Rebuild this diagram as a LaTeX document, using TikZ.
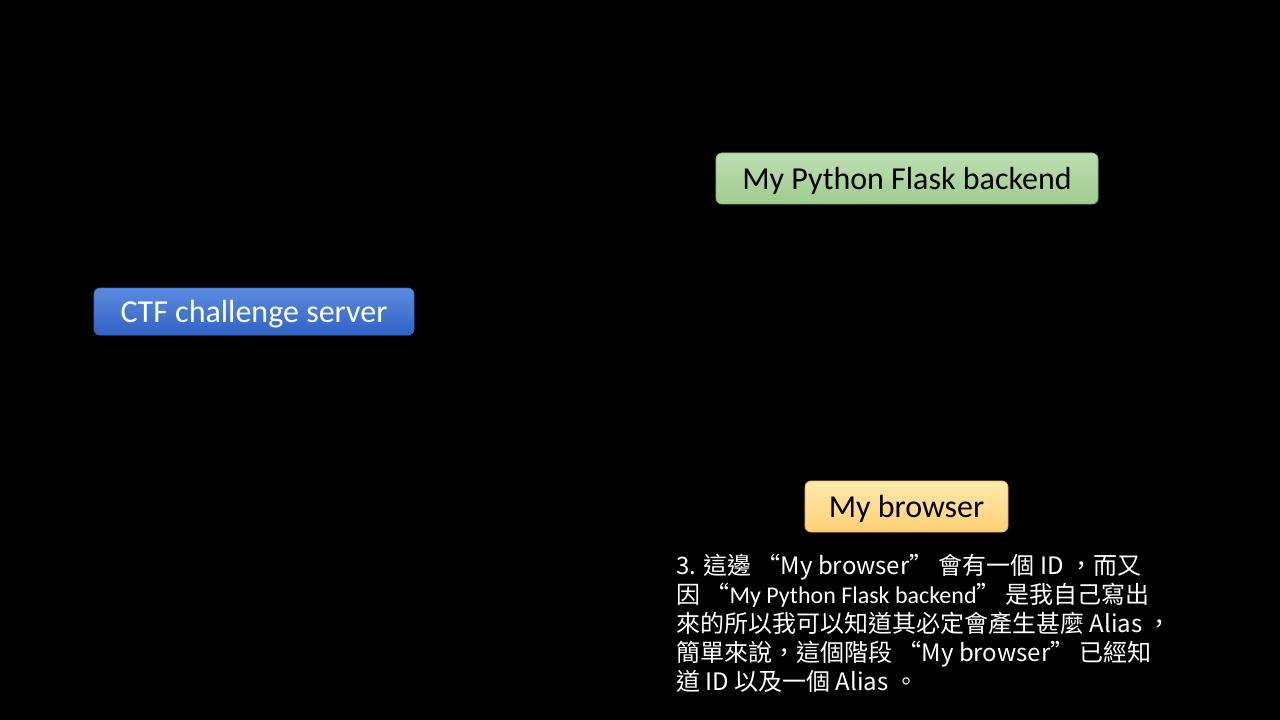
\documentclass[tikz,border=0pt]{standalone}
\usepackage{fontspec}
\setmainfont{Carlito}
\newfontfamily\cjkfont{Noto Sans CJK TC}
\newfontfamily\calfont{Carlito}
\definecolor{gtop}{RGB}{190,222,178}
\definecolor{gbot}{RGB}{158,204,142}
\definecolor{gline}{RGB}{140,185,125}
\definecolor{btop}{RGB}{92,140,224}
\definecolor{bbot}{RGB}{48,98,196}
\definecolor{bline}{RGB}{60,105,190}
\definecolor{ytop}{RGB}{255,232,170}
\definecolor{ybot}{RGB}{255,208,118}
\definecolor{yline}{RGB}{225,180,90}
\tikzset{
  px/.style={x=0.75pt,y=-0.75pt},
  boxbase/.style={rounded corners=4.5pt, inner sep=0pt, text depth=0pt, font=\fontsize{24}{28}\selectfont, line width=0.6pt},
  greenbox/.style={boxbase, top color=gtop, bottom color=gbot, draw=gline, text=black},
  bluebox/.style={boxbase, top color=btop, bottom color=bbot, draw=bline, text=white},
  yellowbox/.style={boxbase, top color=ytop, bottom color=ybot, draw=yline, text=black},
  note/.style={text=white, inner sep=0pt, align=left, anchor=north west,
    font=\cjkfont\fontsize{18}{21.75}\selectfont}
}
\begin{document}
\begin{tikzpicture}[px]
\fill[black] (0,0) rectangle (1280,720);
\useasboundingbox (0,0) rectangle (1280,720);
\node[greenbox, minimum width=382*0.75pt, minimum height=51*0.75pt] (flask) at (907,178.5) {My Python Flask backend};
\node[bluebox, minimum width=320*0.75pt, minimum height=47*0.75pt] (ctf) at (254,311.5) {CTF challenge server};
\node[yellowbox, minimum width=203*0.75pt, minimum height=51*0.75pt] (browser) at (906.5,506.5) {My browser};
\node[note] (desc) at (676,554) {3. 這邊 “My browser” 會有一個 ID ，而又\\
因 “{\calfont My Python Flask backend}” 是我自己寫出\\
來的所以我可以知道其必定會產生甚麼 Alias ，\\
簡單來說，這個階段 “My browser” 已經知\\
道 ID 以及一個 Alias 。};
\end{tikzpicture}
\end{document}
